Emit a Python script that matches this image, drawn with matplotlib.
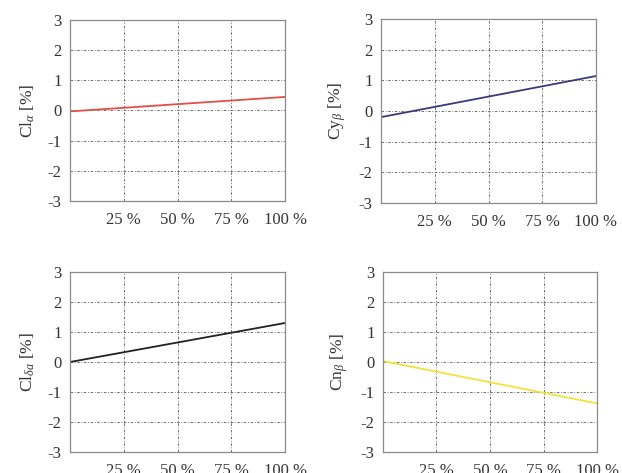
import matplotlib
matplotlib.use("Agg")
import matplotlib.pyplot as plt
import numpy as np

plt.rcParams['font.family'] = ['Liberation Serif', 'DejaVu Serif']
plt.rcParams['mathtext.fontset'] = 'custom'
plt.rcParams['mathtext.rm'] = 'Liberation Serif'
plt.rcParams['mathtext.it'] = 'Liberation Serif:italic'

# data
x_frac = [0.0, 1.0]
cl_alpha = [-0.03, 0.45]
cy_beta = [-0.20, 1.14]
cl_da = [0.0, 1.30]
cn_beta = [0.03, -1.38]

x_ticks = [0.25, 0.5, 0.75, 1.0]
x_ticklabels = ["25 %", "50 %", "75 %", "100 %"]
y_ticks = [-3, -2, -1, 0, 1, 2, 3]

panels = [
    (cl_alpha, "#e0504a", r"Cl$_{\alpha}$ [%]", [70, 20, 285, 201]),
    (cy_beta, "#3c3a78", r"Cy$_{\beta}$ [%]", [381, 19, 596, 203]),
    (cl_da, "#222222", r"Cl$_{\delta a}$ [%]", [70, 272, 285, 452]),
    (cn_beta, "#f2e33a", r"Cn$_{\beta}$ [%]", [383, 272, 597, 452]),
]

W, H = 622, 473
fig = plt.figure(figsize=(W / 100, H / 100), dpi=100)

for vals, col, lab, (x0, y0, x1, y1) in panels:
    ax = fig.add_axes([x0 / W, 1 - y1 / H, (x1 - x0) / W, (y1 - y0) / H])
    ax.plot(x_frac, vals, color=col, lw=1.3)
    ax.set_xlim(0, 1)
    ax.set_ylim(-3, 3)
    ax.set_xticks(x_ticks)
    ax.set_xticklabels(x_ticklabels)
    ax.set_yticks(y_ticks)
    ax.set_yticklabels([str(v) for v in y_ticks])
    ax.tick_params(axis='x', length=0, pad=8, labelsize=12, colors='#333333')
    ax.tick_params(axis='y', length=0, pad=6, labelsize=12, colors='#333333')
    ax.grid(True, color='#444444', linestyle=(0, (3, 2, 1, 2)), linewidth=0.6, alpha=0.9)
    for s in ax.spines.values():
        s.set_color('#8a8a8a')
        s.set_linewidth(0.9)
    ax.set_ylabel(lab, fontsize=12.5, color='#333333', labelpad=8)

fig.savefig("out.png", dpi=100)
